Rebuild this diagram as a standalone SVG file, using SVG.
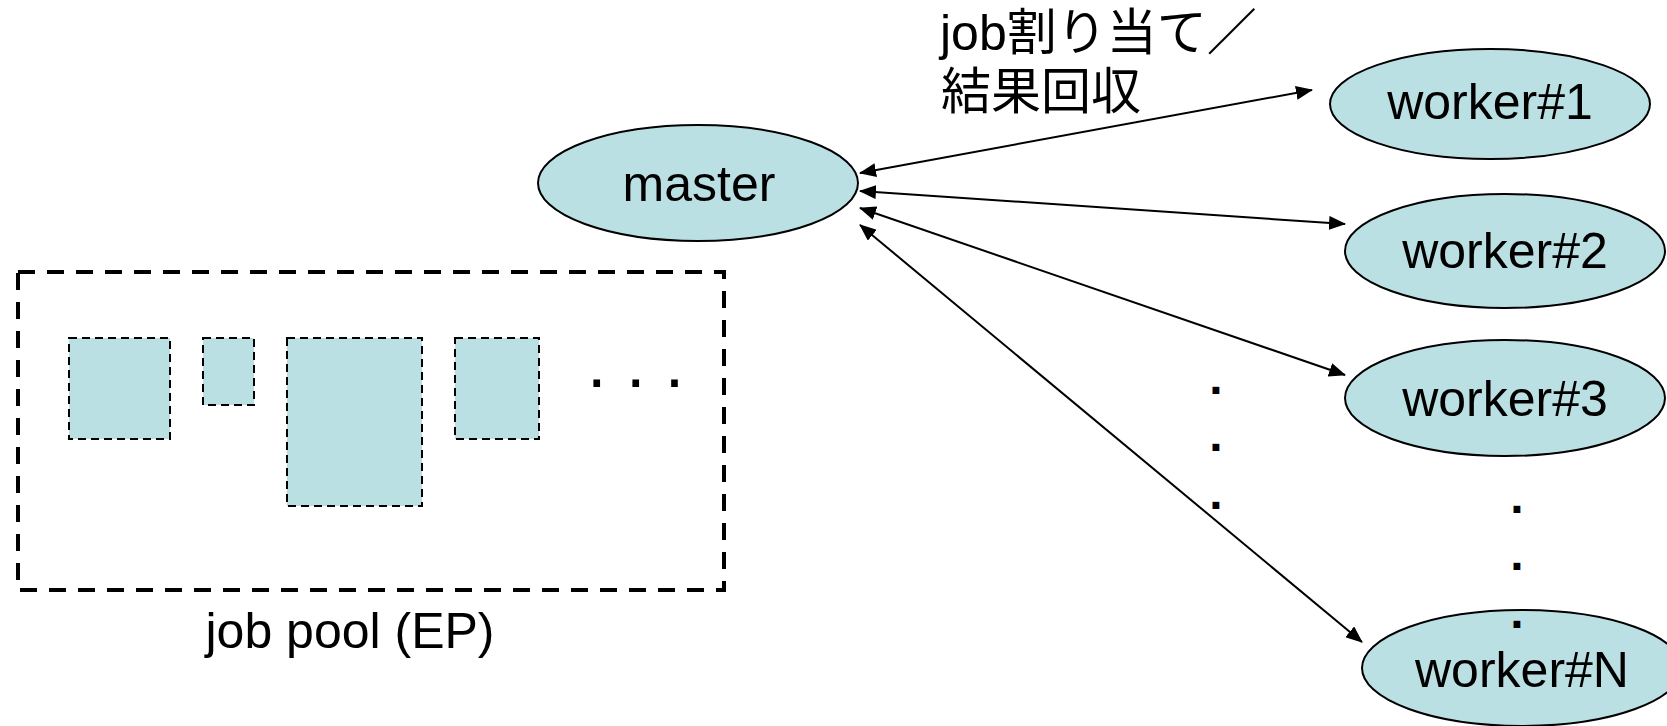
<svg xmlns="http://www.w3.org/2000/svg" width="1667" height="726" viewBox="0 0 1667 726">
<style>
.node{fill:#BBE0E3;stroke:#000;stroke-width:2}
.lbl{font-family:"Liberation Sans",Arial,"Noto Sans CJK JP",sans-serif;font-size:50px;fill:#000}
.mid{text-anchor:middle}
.dot{font-family:"Liberation Sans",Arial,sans-serif;font-size:70px;fill:#000}
.vdot{font-family:"Liberation Sans",Arial,sans-serif;font-size:48px;font-weight:bold;fill:#000}
.conn{stroke:#000;stroke-width:2;fill:none;marker-start:url(#ah);marker-end:url(#ah)}
.job{fill:#BBE0E3;stroke:#000;stroke-width:2;stroke-dasharray:8 5}
</style>
<defs>
<marker id="ah" markerUnits="userSpaceOnUse" markerWidth="17" markerHeight="14" viewBox="0 0 17 14" refX="16" refY="7" orient="auto-start-reverse">
<path d="M0,0 L17,7 L0,14 z" fill="#000"/>
</marker>
</defs>
<rect width="1667" height="726" fill="#fff"/>
<g id="job-pool">
<rect x="18" y="272" width="706" height="318" fill="none" stroke="#000" stroke-width="4" stroke-dasharray="17 12"/>
<rect class="job" x="69" y="338" width="101" height="101"/>
<rect class="job" x="203" y="338" width="51" height="67"/>
<rect class="job" x="287" y="338" width="135" height="168"/>
<rect class="job" x="455" y="338" width="84" height="101"/>
<text class="dot" x="587" y="386.5">. . .</text>
<text class="lbl mid" x="350" y="648">job pool (EP)</text>
</g>
<g id="connectors">
<line class="conn" x1="860" y1="173" x2="1312" y2="90"/>
<line class="conn" x1="860" y1="191" x2="1345" y2="224"/>
<line class="conn" x1="860" y1="208" x2="1345" y2="375"/>
<line class="conn" x1="860" y1="225" x2="1362" y2="642"/>
</g>
<g id="label">
<text class="lbl" x="940" y="50">job割り当て／</text>
<text class="lbl" x="941" y="109">結果回収</text>
</g>
<g id="master">
<ellipse class="node" cx="698" cy="183" rx="160" ry="58"/>
<text class="lbl mid" x="699" y="201">master</text>
</g>
<g id="worker1">
<ellipse class="node" cx="1490" cy="104" rx="160" ry="55"/>
<text class="lbl mid" x="1490" y="119">worker#1</text>
</g>
<g id="worker2">
<ellipse class="node" cx="1505" cy="251" rx="160" ry="57"/>
<text class="lbl mid" x="1505" y="268">worker#2</text>
</g>
<g id="worker3">
<ellipse class="node" cx="1505" cy="398" rx="160" ry="58"/>
<text class="lbl mid" x="1505" y="416">worker#3</text>
</g>
<g id="workerN">
<ellipse class="node" cx="1522" cy="668" rx="160" ry="58"/>
<text class="lbl mid" x="1522" y="687">worker#N</text>
</g>
<g id="ellipsis-dots">
<text class="vdot" x="1209.3" y="394.3">.</text>
<text class="vdot" x="1209.3" y="451.3">.</text>
<text class="vdot" x="1209.3" y="509.3">.</text>
<text class="vdot" x="1510.3" y="513.3">.</text>
<text class="vdot" x="1510.3" y="570.3">.</text>
<text class="vdot" x="1510.3" y="628.3">.</text>
</g>
</svg>
